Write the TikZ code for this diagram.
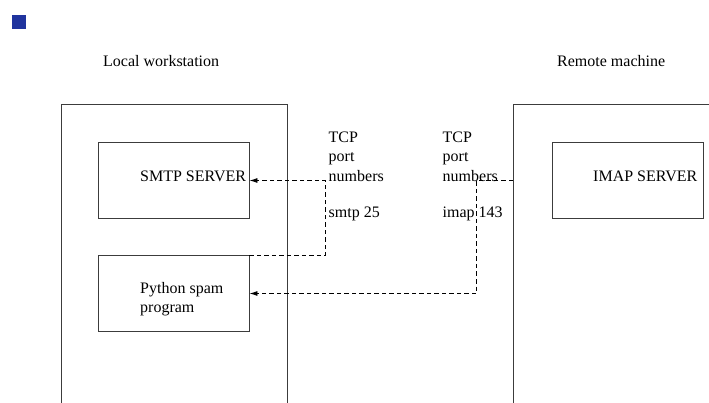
\documentclass[tikz,border=0pt]{standalone}
\usepackage{fontspec}
\setmainfont{Liberation Serif}
\usetikzlibrary{arrows.meta}
\definecolor{marker}{RGB}{32,52,158}
\definecolor{edge}{RGB}{60,60,60}
\tikzset{
  x=1pt, y=-1pt,
  frame/.style={draw=edge, line width=0.9pt},
  procbox/.style={draw=edge, line width=0.9pt, minimum width=151pt, minimum height=76pt, inner sep=0pt},
  lbl/.style={anchor=base west, inner sep=0pt, font=\fontsize{16}{19}\selectfont},
  link/.style={draw=black, dash pattern=on 4.5pt off 3pt, line width=0.9pt},
  tip/.style={-{Latex[length=8pt,width=5pt]}}
}
\begin{document}
\begin{tikzpicture}
\useasboundingbox (0,0) rectangle (709,403);
% marker square
\fill[marker] (12,15) rectangle (26,29);
% machine outlines, running off the lower edge
\draw[frame] (61,410) -- (61,104) -- (287,104) -- (287,410);
\draw[frame] (513,410) -- (513,104) -- (720,104);
% headings
\node[lbl] (hl) at (103,66.7) {Local workstation};
\node[lbl] (hr) at (557,66.7) {Remote machine};
% process boxes
\node[procbox] (smtpbox) at (173.5,180) {};
\node[procbox] (pybox) at (173.5,293) {};
\node[procbox] (imapbox) at (627.5,180) {};
\node[lbl] (smtp) at (140,181.7) {SMTP SERVER};
\node[lbl] (py1) at (140,294) {Python spam};
\node[lbl] (py2) at (140,312.5) {program};
\node[lbl] (imap) at (593,181.7) {IMAP SERVER};
% port annotations
\node[lbl] (t1) at (328.5,142.7) {TCP};
\node[lbl] (p1) at (328.5,161.7) {port};
\node[lbl] (n1) at (328.5,181.7) {numbers};
\node[lbl] (s1) at (328.5,217.5) {smtp 25};
\node[lbl] (t2) at (442.5,142.7) {TCP};
\node[lbl] (p2) at (442.5,161.7) {port};
\node[lbl] (n2) at (442.5,181.7) {numbers};
\node[lbl] (s2) at (442.5,217.5) {imap 143};
% connection end points
\coordinate (remL) at (513,180.5);
\coordinate (bendA) at (325.5,255.5);
\coordinate (bendB) at (325.5,180.5);
\coordinate (bendC) at (476.5,180.5);
\coordinate (bendD) at (476.5,293.5);
% connections
\draw[link, tip] (pybox.east |- bendA) -- (bendA) -- (bendB) -- (smtpbox.east |- bendB);
\draw[link, tip] (remL) -- (bendC) -- (bendD) -- (pybox.east |- bendD);
\end{tikzpicture}
\end{document}
